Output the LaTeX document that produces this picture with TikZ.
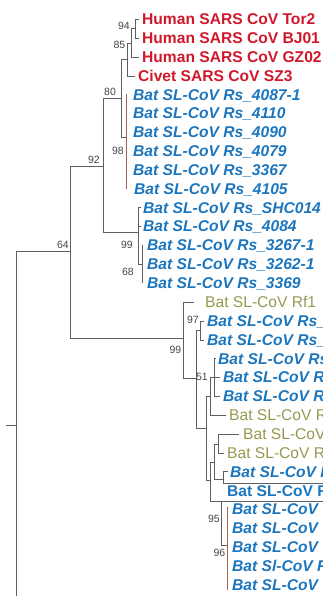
\documentclass[tikz,border=0pt]{standalone}
\usepackage{fontspec}
\setmainfont{Liberation Sans}
\definecolor{sarsred}{RGB}{208,24,44}
\definecolor{batblue}{RGB}{28,118,190}
\definecolor{batolive}{RGB}{150,152,80}
\definecolor{treegray}{RGB}{95,95,95}
\definecolor{supgray}{RGB}{70,70,70}
\definecolor{clademark}{RGB}{165,95,85}
\tikzset{
  leafbase/.style={anchor=west, inner sep=0pt, text height=11.3pt, text depth=0pt},
  leafred/.style={leafbase, text=sarsred, font=\fontsize{15.6}{18}\selectfont\bfseries},
  leafblue/.style={leafbase, text=batblue, font=\fontsize{15.6}{18}\selectfont\bfseries\itshape},
  leafblueup/.style={leafbase, text=batblue, font=\fontsize{15.6}{18}\selectfont\bfseries},
  leafolive/.style={leafbase, text=batolive, font=\fontsize{15.6}{18}\selectfont},
  branch/.style={draw=treegray, line width=0.8pt},
  markline/.style={draw=clademark, line width=0.7pt},
  sup/.style={inner sep=0pt, text=supgray, font=\fontsize{10.5}{12}\selectfont}
}
\begin{document}
\begin{tikzpicture}[x=1pt,y=-1pt]
\useasboundingbox (0,0) rectangle (323,596);
\clip (0,0) rectangle (323,596);
% ---------------- leaves ----------------
\node[leafred] (l1) at (142,19) {Human SARS CoV Tor2};
\node[leafred] (l2) at (142,38) {Human SARS CoV BJ01};
\node[leafred] (l3) at (142,57) {Human SARS CoV GZ02};
\node[leafred] (l4) at (138,76) {Civet SARS CoV SZ3};
\node[leafblue] (l5) at (133,94.5) {Bat SL-CoV Rs\_4087-1};
\node[leafblue] (l6) at (133,113) {Bat SL-CoV Rs\_4110};
\node[leafblue] (l7) at (133,132) {Bat SL-CoV Rs\_4090};
\node[leafblue] (l8) at (133,151) {Bat SL-CoV Rs\_4079};
\node[leafblue] (l9) at (133,170) {Bat SL-CoV Rs\_3367};
\node[leafblue] (l10) at (134,189) {Bat SL-CoV Rs\_4105};
\node[leafblue] (l11) at (143,207.5) {Bat SL-CoV Rs\_SHC014};
\node[leafblue] (l12) at (143,226) {Bat SL-CoV Rs\_4084};
\node[leafblue] (l13) at (147,245) {Bat SL-CoV Rs\_3267-1};
\node[leafblue] (l14) at (147,264) {Bat SL-CoV Rs\_3262-1};
\node[leafblue] (l15) at (147,283) {Bat SL-CoV Rs\_3369};
\node[leafolive] (l16) at (205,302) {Bat SL-CoV Rf1};
\node[leafblue] (l17) at (207,321) {Bat SL-CoV Rs\_};
\node[leafblue] (l18) at (207,340) {Bat SL-CoV Rs\_};
\node[leafblue] (l19) at (218,358.5) {Bat SL-CoV Rs};
\node[leafblue] (l20) at (223,377) {Bat SL-CoV R};
\node[leafblue] (l21) at (223,396) {Bat SL-CoV R};
\node[leafolive] (l22) at (229,415) {Bat SL-CoV R};
\node[leafolive] (l23) at (243,434) {Bat SL-CoV};
\node[leafolive] (l24) at (227,453) {Bat SL-CoV R};
\node[leafblue] (l25) at (230,471.5) {Bat SL-CoV R};
\node[leafblueup] (l26) at (227,491) {Bat SL-CoV R};
\node[leafblue] (l27) at (232,509) {Bat SL-CoV};
\node[leafblue] (l28) at (232,528) {Bat SL-CoV};
\node[leafblue] (l29) at (232,547) {Bat SL-CoV};
\node[leafblue] (l30) at (232,566) {Bat Sl-CoV R};
\node[leafblue] (l31) at (232,584.5) {Bat SL-CoV};
% ---------------- root ----------------
\coordinate (rs) at (6,425);
\coordinate (r) at (16,425);
\coordinate (rt) at (16,251);
\coordinate (rb) at (16,600);
\draw[branch] (rs) -- (r);
\draw[branch] (rt) -- (rb);
% node 64
\coordinate (a64t) at (70,166);
\coordinate (a64m) at (70,251);
\coordinate (a64b) at (70,338);
\draw[branch] (rt) -- (a64m);
\draw[branch] (a64t) -- (a64b);
\node[sup, anchor=south east] (s64) at (69,249) {64};
% node 92
\coordinate (a92t) at (103,98);
\coordinate (a92m) at (103,166);
\coordinate (a92b) at (103,232);
\draw[branch] (a64t) -- (a92m);
\draw[branch] (a92t) -- (a92b);
\node[sup, anchor=south east] (s92) at (100,164) {92};
% node 80
\coordinate (a80t) at (121,59.5);
\coordinate (a80m) at (121,98);
\coordinate (a80b) at (121,137);
\draw[branch] (a92t) -- (a80m);
\draw[branch] (a80t) -- (a80b);
\node[sup, anchor=south] (s80) at (110,96) {80};
% civet node
\coordinate (aCt) at (127,43);
\coordinate (aCm) at (127,59.5);
\coordinate (aCb) at (127,76);
\coordinate (l4tip) at (135,76);
\draw[branch] (a80t) -- (aCm);
\draw[branch] (aCt) -- (aCb);
\draw[branch] (aCb) -- (l4tip);
% node 85
\coordinate (a85t) at (131,28.5);
\coordinate (a85m) at (131,43);
\coordinate (a85b) at (131,57);
\coordinate (l3tip) at (139,57);
\draw[branch] (aCt) -- (a85m);
\draw[branch] (a85t) -- (a85b);
\draw[branch] (a85b) -- (l3tip);
\node[sup, anchor=east] (s85) at (125.5,45) {85};
% node 94
\coordinate (a94t) at (135,19);
\coordinate (a94m) at (135,28.5);
\coordinate (a94b) at (135,38);
\coordinate (l1tip) at (139,19);
\coordinate (l2tip) at (139,38);
\draw[branch] (a85t) -- (a94m);
\draw[branch] (a94t) -- (a94b);
\draw[branch] (a94t) -- (l1tip);
\draw[branch] (a94b) -- (l2tip);
\node[sup, anchor=east] (s94) at (130,26) {94};
% node 98
\coordinate (a98t) at (126,94.5);
\coordinate (a98m) at (126,137);
\coordinate (a98b) at (126,189);
\draw[branch] (a80b) -- (a98m);
\draw[markline] (a98t) -- (a98b);
\node[sup, anchor=east] (s98) at (124,151) {98};
% node 99 (upper)
\coordinate (a99t) at (138,207.5);
\coordinate (a99m) at (138,232);
\coordinate (a99b) at (138,264);
\coordinate (l11tip) at (141,207.5);
\coordinate (l12tip) at (141,226);
\draw[branch] (a92b) -- (a99m);
\draw[branch] (a99t) -- (a99b);
\draw[branch] (a99t) -- (l11tip);
\draw[branch] (a99m |- l12tip) -- (l12tip);
\node[sup, anchor=east] (s99a) at (133,245) {99};
% node 68
\coordinate (a68t) at (142,245);
\coordinate (a68m) at (142,264);
\coordinate (a68b) at (142,283);
\draw[branch] (a99b) -- (a68m);
\draw[branch] (a68t) -- (a68b);
\node[sup, anchor=east] (s68) at (134,272) {68};
% node 99 (lower)
\coordinate (b99t) at (183,302);
\coordinate (b99m) at (183,338);
\coordinate (b99b) at (183,378);
\coordinate (l16tip) at (194,302);
\draw[branch] (a64b) -- (b99m);
\draw[branch] (b99t) -- (b99b);
\draw[branch] (b99t) -- (l16tip);
\node[sup, anchor=east] (s99b) at (181.5,350) {99};
% node N1
\coordinate (n1t) at (196,330.5);
\coordinate (n1m) at (196,378);
\coordinate (n1b) at (196,428);
\draw[branch] (b99b) -- (n1m);
\draw[branch] (n1t) -- (n1b);
% node 97
\coordinate (a97t) at (200,321);
\coordinate (a97m) at (200,330.5);
\coordinate (a97b) at (200,340);
\coordinate (l17tip) at (204,321);
\coordinate (l18tip) at (204,340);
\draw[branch] (n1t) -- (a97m);
\draw[branch] (a97t) -- (a97b);
\draw[branch] (a97t) -- (l17tip);
\draw[branch] (a97b) -- (l18tip);
\node[sup, anchor=east] (s97) at (199,320) {97};
% node N2
\coordinate (n2t) at (206,396);
\coordinate (n2m) at (206,428);
\coordinate (n2b) at (206,480);
\draw[branch] (n1b) -- (n2m);
\draw[branch] (n2t) -- (n2b);
% node N22 (51)
\coordinate (n22t) at (210,377);
\coordinate (n22m) at (210,396);
\coordinate (n22b) at (210,415);
\coordinate (l22tip) at (226,415);
\draw[branch] (n2t) -- (n22m);
\draw[branch] (n22t) -- (n22b);
\draw[branch] (n22b) -- (l22tip);
\node[sup, anchor=east] (s51) at (208,377) {51};
% node N19
\coordinate (n19t) at (214,358.5);
\coordinate (n19m) at (214,377);
\coordinate (n19b) at (214,396);
\coordinate (l19tip) at (216,358.5);
\coordinate (l20tip) at (220,377);
\coordinate (l21tip) at (220,396);
\draw[branch] (n22t) -- (n19m);
\draw[branch] (n19t) -- (n19b);
\draw[branch] (n19t) -- (l19tip);
\draw[branch] (n19m) -- (l20tip);
\draw[branch] (n19b) -- (l21tip);
% node N4
\coordinate (n4t) at (210,462);
\coordinate (n4m) at (210,480);
\coordinate (n4b) at (210,501);
\coordinate (rule2end) at (330,501);
\draw[branch] (n2b) -- (n4m);
\draw[branch] (n4t) -- (n4b);
\draw[branch] (n4b) -- (rule2end);
% node N5
\coordinate (n5t) at (214,444);
\coordinate (n5m) at (214,462);
\coordinate (n5b) at (214,479);
\draw[branch] (n4t) -- (n5m);
\draw[branch] (n5t) -- (n5b);
% node N23
\coordinate (n23t) at (218,434);
\coordinate (n23m) at (218,444);
\coordinate (n23b) at (218,453);
\coordinate (l23tip) at (239,434);
\coordinate (l24tip) at (224,453);
\draw[branch] (n5t) -- (n23m);
\draw[branch] (n23t) -- (n23b);
\draw[branch] (n23t) -- (l23tip);
\draw[branch] (n23b) -- (l24tip);
% node N25
\coordinate (n25t) at (223,471.5);
\coordinate (n25m) at (223,479);
\coordinate (n25b) at (223,483.5);
\coordinate (l25tip) at (228,471.5);
\coordinate (rule1end) at (330,483.5);
\draw[branch] (n5b) -- (n25m);
\draw[branch] (n25t) -- (n25b);
\draw[branch] (n25t) -- (l25tip);
\draw[branch] (n25b) -- (rule1end);
% node 95
\coordinate (n95t) at (221,501);
\coordinate (n95b) at (221,545);
\draw[branch] (n95t) -- (n95b);
\node[sup, anchor=east] (s95) at (220,519) {95};
% node 96
\coordinate (n96t) at (227,507);
\coordinate (n96m) at (227,545);
\coordinate (n96b) at (227,590);
\draw[branch] (n95b) -- (n96m);
\draw[markline] (n96t) -- (n96b);
\node[sup, anchor=east] (s96) at (225.5,553) {96};
\end{tikzpicture}
\end{document}
